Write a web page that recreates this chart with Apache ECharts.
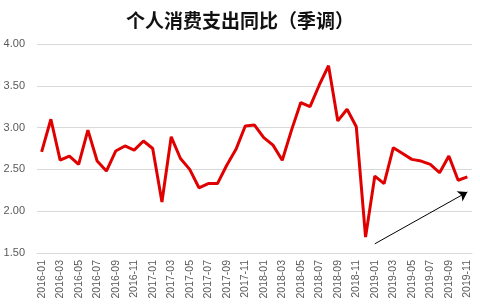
<!DOCTYPE html>
<html><head><meta charset="utf-8">
<script src="https://cdn.jsdelivr.net/npm/echarts@6/dist/echarts.min.js"></script>
<style>html,body{margin:0;padding:0;background:#fff}#c{width:480px;height:307px}</style>
</head><body><div id="c"></div>
<script>
const categories = [];
for (let y = 2016; y <= 2019; y++) for (let m = 1; m <= 12; m++) { if (y === 2019 && m > 11) break; categories.push(y + '-' + String(m).padStart(2, '0')); }
const values = [2.71,3.10,2.61,2.66,2.56,2.97,2.60,2.48,2.72,2.78,2.73,2.84,
  2.75,2.11,2.89,2.63,2.50,2.28,2.33,2.33,2.55,2.74,3.02,3.03,
  2.88,2.79,2.61,2.97,3.30,3.25,3.51,3.74,3.08,3.22,3.01,1.69,
  2.42,2.33,2.76,2.69,2.62,2.60,2.56,2.46,2.66,2.37,2.41];
const arrowStart = ['2019-01', 1.61];
const arrowEnd = ['2019-11', 2.23];
const chart = echarts.init(document.getElementById('c'));
chart.setOption({
  animation: false,
  title: { text: '个人消费支出同比（季调）', left: 'center', top: 6,
    textStyle: { fontFamily: 'Noto Sans CJK SC', fontWeight: 'bold', fontSize: 19, color: '#111' } },
  grid: { left: 37, right: 8, top: 44, bottom: 54 },
  xAxis: { type: 'category', data: categories, boundaryGap: true,
    axisLine: { lineStyle: { color: '#d9d9d9' } }, axisTick: { show: false },
    axisLabel: { rotate: 90, interval: 1, color: '#595959', fontSize: 10.5, fontFamily: 'Liberation Sans', margin: 7 } },
  yAxis: { type: 'value', min: 1.5, max: 4, interval: 0.5,
    axisLabel: { formatter: v => v.toFixed(2), color: '#595959', fontSize: 11, fontFamily: 'Liberation Sans', margin: 12 },
    splitLine: { lineStyle: { color: '#d9d9d9' } }, axisLine: { show: false }, axisTick: { show: false } },
  series: [{ type: 'line', data: values, showSymbol: false, symbol: 'none',
    lineStyle: { color: '#e00000', width: 3 },
    markLine: { silent: true, symbol: ['none', 'arrow'], symbolSize: 9, label: { show: false },
      lineStyle: { color: '#000', width: 1, type: 'solid' },
      data: [[{ coord: arrowStart }, { coord: arrowEnd }]] } }]
});
</script></body></html>
